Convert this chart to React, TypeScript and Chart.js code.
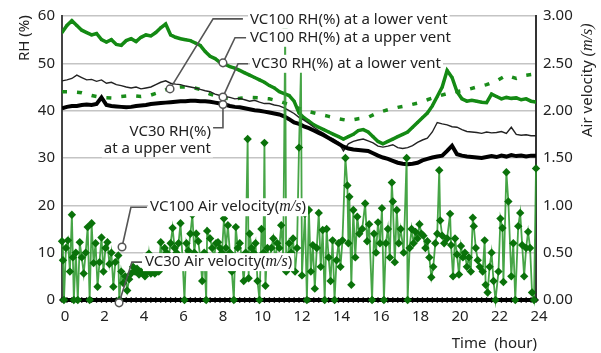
import React, { useEffect, useRef } from "react";
import { Chart, registerables } from "chart.js";

Chart.register(...registerables);

const FONT = "'Noto Sans', 'DejaVu Sans', sans-serif";
const MATH_FONT = "'Liberation Serif', 'DejaVu Serif', serif";

// RH series sampled every quarter hour (0 .. 24 h)
const RH_STEP = 0.25;
const vc100RhUpper = [
  56.5, 58, 59, 58, 57, 56.5, 56, 56.3, 55, 54.5, 55, 54, 53.8, 54.8, 55.2, 54.6,
  55.5, 56, 55.8, 56.5, 57.5, 58.3, 56, 55.5, 55.2, 55, 54.8, 54.3, 53.8, 52.5, 51.5, 51,
  50.2, 49.8, 49.3, 49, 48.5, 48, 47.5, 47, 46.5, 46, 45.3, 44.8, 44, 43.6, 43.2, 42,
  39.5, 38.5, 37.8, 37, 36.5, 36, 35.5, 35, 34.5, 34, 34.5, 35, 35.8, 36, 35.5, 34.5,
  33.5, 33, 33.5, 34, 34.5, 35, 35.5, 36.5, 37.5, 38.5, 39.5, 41, 43, 45, 48.5, 47,
  44, 42.5, 42, 42.2, 42, 41.8, 41.7, 43.5, 43, 42.5, 42.8, 42.6, 42.7, 42.3, 42.5, 42,
  41.8,
];
const vc100RhLower = [
  46.3, 46.5, 46.8, 47.5, 47, 46.5, 46.6, 46.2, 46.5, 45.8, 46, 45.5, 45.3, 45, 44.8, 45,
  44.6, 44.8, 45, 45.5, 46, 46.3, 45.8, 45.6, 45.5, 45.2, 45, 44.8, 44.5, 44.2, 44, 43.5,
  43.2, 43, 42.8, 42.5, 42.6, 42.3, 42, 42.2, 41.8, 41.5, 41.5, 41.2, 41, 40.6, 40, 39.4,
  38.6, 38, 37.3, 36.5, 35.8, 35.2, 34.5, 34, 33.3, 31.5, 33, 33.5, 33.8, 34, 33.6, 33.2,
  32.5, 32.3, 32.5, 32.8, 32.2, 32, 32.2, 32.6, 33.3, 33.8, 34.2, 35.5, 37.5, 37.2, 37, 36.6,
  36.5, 36, 35.6, 35.5, 35.4, 35.2, 35.5, 35.3, 35.4, 35.6, 35.2, 36.5, 35, 34.8, 34.9, 34.7,
  34.7,
];
const vc30RhUpper = [
  40.5, 40.8, 41, 41, 41.2, 41.3, 41.2, 41.4, 42.8, 41.2, 41, 40.9, 40.8, 40.7, 40.8, 41,
  41.1, 41.2, 41.4, 41.5, 41.6, 41.7, 41.8, 41.9, 42, 42, 42.1, 42.1, 42, 42, 41.9, 41.7,
  41.5, 41.3, 41, 40.8, 40.7, 40.5, 40.3, 40.1, 40, 39.8, 39.6, 39.4, 39.2, 38.8, 38.2, 37.5,
  37.2, 36.7, 36.3, 35.8, 35.3, 34.8, 34.2, 33.6, 33, 32.4, 32, 31.8, 31.7, 31.6, 31.5, 31,
  30.5, 30.1, 29.8, 29.4, 29, 28.8, 28.7, 28.8, 29, 29.5, 29.8, 30.1, 30.3, 30.5, 31.5, 32.6,
  30.8, 30.5, 30.3, 30.2, 30.1, 30, 30.2, 30.4, 30.2, 30.5, 30.3, 30.6, 30.4, 30.5, 30.3, 30.5,
  30.5,
];
// VC30 lower vent RH sampled every half hour
const RH_LOWER30_STEP = 0.5;
const vc30RhLower = [
  44, 44, 43.8, 43.2, 42.8, 42.7, 43, 43.2, 43, 43.3,
  44, 44.8, 45, 45, 44.5, 43.5, 42.8, 42.5, 42.6, 42.8,
  42.7, 42.5, 42, 41.3, 40.5, 39.8, 39.3, 38.8, 38.3, 37.9,
  38.3, 38.6, 39.6, 40.2, 40.7, 41.1, 41.6, 42.3, 43, 43.6,
  44, 44.4, 45, 45.5, 46.3, 47.5, 46.8, 47.5, 47.8,
];

// Air velocity (m/s)
const velHours = [
  0, 0.05, 0.1, 0.2, 0.3, 0.4, 0.5, 0.55, 0.6, 0.7, 0.8, 0.9, 1.0,
  1.1, 1.2, 1.3, 1.4, 1.5, 1.6, 1.7, 1.8, 1.9, 2.0, 2.1,
  2.2, 2.3, 2.4, 2.5, 2.6, 2.7, 2.85, 2.9, 3.0,
  3.1, 3.2, 3.3, 3.4, 3.5, 3.6, 3.7, 3.8, 3.9, 4.0,
  4.1, 4.2, 4.3, 4.4, 4.5, 4.6, 4.7, 4.8, 4.9, 5.0,
  5.1, 5.2, 5.3, 5.4, 5.5, 5.6, 5.7, 5.8, 5.9, 6.0, 6.1,
  6.2, 6.3, 6.4, 6.5, 6.6, 6.7, 6.8, 6.9, 7.0, 7.1,
  7.2, 7.3, 7.35, 7.5, 7.6, 7.7, 7.8, 7.9, 8.0,
  8.1, 8.2, 8.3, 8.4, 8.5, 8.6, 8.7, 8.8, 8.9, 9.0,
  9.1, 9.2, 9.3, 9.4, 9.45, 9.5, 9.6, 9.7, 9.8, 9.9, 10.0,
  10.1, 10.2, 10.25, 10.3, 10.4, 10.5, 10.6, 10.7, 10.8, 10.9, 11.0,
  11.1, 11.2, 11.3, 11.35, 11.5, 11.6, 11.7, 11.8, 11.9, 12.0,
  12.1, 12.15, 12.3, 12.4, 12.5, 12.6, 12.7, 12.8, 12.9, 13.0,
  13.1, 13.2, 13.3, 13.4, 13.5, 13.6, 13.7, 13.8, 13.9, 14.0,
  14.1, 14.2, 14.35, 14.45, 14.5, 14.55, 14.65, 14.75, 14.85, 14.95,
  15.05, 15.2, 15.35, 15.45, 15.55, 15.7, 15.8, 15.9, 16.0, 16.1,
  16.2, 16.3, 16.4, 16.5, 16.6, 16.7, 16.75, 16.85, 16.95, 17.05,
  17.15, 17.3, 17.45, 17.5, 17.6, 17.7, 17.8, 17.9, 18.0, 18.1,
  18.2, 18.3, 18.4, 18.5, 18.6, 18.7, 18.8, 18.9, 19.0,
  19.1, 19.15, 19.25, 19.35, 19.5, 19.65, 19.7, 19.8, 19.9, 20.0,
  20.1, 20.2, 20.3, 20.4, 20.5, 20.6, 20.7, 20.8, 20.85, 20.95,
  21.05, 21.15, 21.3, 21.4, 21.45, 21.55, 21.65, 21.75, 21.85, 21.95,
  22.1, 22.2, 22.3, 22.35, 22.5, 22.6, 22.75, 22.85, 22.95,
  23.1, 23.2, 23.3, 23.4, 23.5, 23.6, 23.7, 23.8, 23.9, 24.0,
];
const vc100Vel = [
  0.62, 0.42, 0, 0.55, 0.63, 0.3, 0.9, 0.45, 0, 0.5, 0, 0.61, 0.45,
  0.28, 0.5, 0.77, 0, 0.81, 0.39, 0.6, 0.14, 0.4, 0.66, 0.3,
  0.55, 0.61, 0.38, 0.5, 0.14, 0.4, 0.47, 0, 0.3,
  0.18, 0.25, 0.1, 0.22, 0.28, 0.35, 0.3, 0.33, 0.27, 0.3,
  0.28, 0.25, 0.3, 0.49, 0.28, 0.3, 0.28, 0.3, 0.3, 0.61,
  0.4, 0.55, 0.5, 0.45, 0.6, 0.76, 0.55, 0.5, 0.6, 0.81, 0.45,
  0, 0.6, 0.52, 0.7, 0.9, 0.5, 0.7, 0.62, 0.45, 0.2,
  0.5, 0, 0.73, 0.65, 0.55, 0.45, 0.6, 0.61, 0.55,
  0.5, 0.86, 0.55, 0.79, 0.5, 0.3, 0, 0.77, 0.55, 0.6,
  0.45, 0.2, 0.5, 1.7, 0.23, 0.7, 0.55, 0.5, 0.6, 0.2, 0,
  0.75, 0.5, 1.66, 0.15, 0.55, 0.4, 0.55, 0.65, 0.4, 0.6, 0.55,
  0.79, 0.45, 2.85, 0.3, 0.6, 0.5, 0.65, 0.3, 0.55, 1.61,
  2.44, 0.26, 0.91, 0, 0.95, 0.3, 0.58, 0.12, 0.55, 0.92,
  0.35, 0.74, 0, 0.75, 0.45, 0.2, 0.63, 0, 0.42, 0.6,
  0.35, 0.63, 1.5, 1.21, 0.6, 1.09, 0.16, 0.95, 0.45, 0.88,
  0.7, 0.75, 1.02, 0.62, 0.8, 0, 0.7, 0.5, 0.82, 0.6,
  0.97, 0, 0.6, 0.75, 0.45, 1.24, 1.04, 0.4, 0.95, 0.6,
  0.75, 0.5, 1.5, 0, 0.55, 0.75, 0.6, 0.72, 0.65, 0.8,
  0.7, 0.68, 0.55, 0.62, 0.45, 0.24, 0.35, 0.6, 0.7,
  1.37, 0.84, 0.68, 0.6, 0.65, 0.91, 0.58, 0.25, 0.65, 0.48,
  0.27, 0.57, 0.45, 0.5, 0.35, 0.45, 0.3, 0.87, 0.78, 0.55,
  0.42, 0.35, 0.3, 0.63, 0.16, 0.08, 0.35, 0.5, 0.2, 0,
  0.3, 0.86, 0.76, 0.19, 1.35, 1.04, 0.25, 0.6, 0,
  0.78, 0.92, 0.58, 0.25, 0.55, 0.72, 0.55, 0.08, 0, 1.39,
];
const vc30Vel = [
  0, 0, 0, 0, 0, 0, 0, 0, 0, 0, 0, 0, 0, 0, 0, 0, 0, 0, 0, 0, 0, 0, 0, 0,
  0, 0, 0, 0, 0, 0, 0, 0, 0, 0, 0, 0, 0, 0, 0, 0, 0, 0, 0, 0, 0, 0, 0, 0,
  0, 0, 0, 0, 0, 0, 0, 0, 0, 0, 0, 0, 0, 0, 0, 0, 0, 0, 0, 0, 0, 0, 0, 0,
  0, 0, 0, 0, 0, 0, 0, 0, 0, 0, 0, 0, 0, 0, 0, 0, 0, 0, 0, 0, 0, 0, 0, 0,
  0,
];

const hourMin = 0;
const hourMax = 24;
const rhMax = 60;
const velMax = 3;

type Part = { t: string; math?: boolean };
type Callout = {
  parts: Part[][];
  axis: "y" | "y1";
  circle: [number, number];
  path: [number, number][];
  text: [number, number];
  align: "left" | "right";
};

const callouts: Callout[] = [
  { parts: [[{ t: "VC100 RH(%) at a lower vent" }]], axis: "y", circle: [5.47, 44.6], path: [[7.65, 59.4], [9.16, 59.4]], text: [9.52, 59.2], align: "left" },
  { parts: [[{ t: "VC100 RH(%) at a upper vent" }]], axis: "y", circle: [8.15, 50.1], path: [[8.76, 55.4], [9.32, 55.4]], text: [9.52, 55.4], align: "left" },
  { parts: [[{ t: "VC30 RH(%) at a lower vent" }]], axis: "y", circle: [8.15, 42.9], path: [[8.91, 49.9], [9.42, 49.9]], text: [9.62, 49.9], align: "left" },
  { parts: [[{ t: "VC30 RH(%)" }], [{ t: "at a upper vent" }]], axis: "y", circle: [8.15, 41.3], path: [[8.15, 36.4], [7.65, 36.4]], text: [7.54, 35.6], align: "right" },
  { parts: [[{ t: "VC100 Air velocity(" }, { t: "m/s", math: true }, { t: ")" }]], axis: "y1", circle: [3.04, 0.56], path: [[3.49, 0.98], [4.3, 0.98]], text: [4.46, 0.98], align: "left" },
  { parts: [[{ t: "VC30 Air velocity(" }, { t: "m/s", math: true }, { t: ")" }]], axis: "y1", circle: [2.89, -0.03], path: [[3.54, 0.4], [4.05, 0.4]], text: [4.2, 0.4], align: "left" },
];

const overlayPlugin = {
  id: "overlay",
  afterDatasetsDraw(chart: any) {
    const { ctx, scales } = chart;
    const X = (h: number) => scales.x.getPixelForValue(h);
    const fontN = `15px ${FONT}`;
    const fontM = `italic 16px ${MATH_FONT}`;
    ctx.save();
    callouts.forEach((c) => {
      const Y = (v: number) => scales[c.axis].getPixelForValue(v);
      ctx.beginPath();
      ctx.strokeStyle = "#555";
      ctx.lineWidth = 1.6;
      ctx.moveTo(X(c.circle[0]), Y(c.circle[1]));
      c.path.forEach((p) => ctx.lineTo(X(p[0]), Y(p[1])));
      ctx.stroke();
    });
    callouts.forEach((c) => {
      const Y = (v: number) => scales[c.axis].getPixelForValue(v);
      const tx = X(c.text[0]);
      let ty = Y(c.text[1]);
      c.parts.forEach((line) => {
        const widths = line.map((p) => {
          ctx.font = p.math ? fontM : fontN;
          return ctx.measureText(p.t).width;
        });
        const total = widths.reduce((a, b) => a + b, 0);
        let x0 = c.align === "left" ? tx : tx - total;
        ctx.fillStyle = "#fff";
        ctx.fillRect(x0 - 2, ty - 9, total + 4, 18);
        ctx.fillStyle = "#222";
        ctx.textBaseline = "middle";
        ctx.textAlign = "left";
        line.forEach((p, i) => {
          ctx.font = p.math ? fontM : fontN;
          ctx.fillText(p.t, x0, ty);
          x0 += widths[i];
        });
        ty += 17;
      });
    });
    callouts.forEach((c) => {
      const Y = (v: number) => scales[c.axis].getPixelForValue(v);
      ctx.beginPath();
      ctx.arc(X(c.circle[0]), Y(c.circle[1]), 3.8, 0, Math.PI * 2);
      ctx.fillStyle = "#fff";
      ctx.fill();
      ctx.strokeStyle = "#555";
      ctx.lineWidth = 1.5;
      ctx.stroke();
    });
    ctx.restore();
  },
  afterDraw(chart: any) {
    const { ctx } = chart;
    ctx.save();
    ctx.fillStyle = "#222";
    ctx.textBaseline = "middle";
    ctx.save();
    ctx.translate(25, 61);
    ctx.rotate(-Math.PI / 2);
    ctx.font = `15px ${FONT}`;
    ctx.textAlign = "left";
    ctx.fillText("RH (%)", 0, 0);
    ctx.restore();
    ctx.save();
    ctx.translate(588, 137);
    ctx.rotate(-Math.PI / 2);
    ctx.font = `15px ${FONT}`;
    ctx.textAlign = "left";
    const a = "Air velocity ";
    ctx.fillText(a, 0, 0);
    const w = ctx.measureText(a).width;
    ctx.font = `italic 16px ${MATH_FONT}`;
    ctx.fillText("(m/s)", w, 0);
    ctx.restore();
    ctx.font = `15px ${FONT}`;
    ctx.textAlign = "right";
    ctx.fillText("Time  (hour)", 537, 344);
    ctx.restore();
  },
};

export default function App() {
  const ref = useRef<HTMLCanvasElement | null>(null);

  useEffect(() => {
    if (!ref.current) return;
    const rhPts = (vals: number[], step: number) => vals.map((v, i) => ({ x: i * step, y: v }));
    const chart = new Chart(ref.current, {
      type: "line",
      data: {
        datasets: [
          {
            label: "VC100 Air velocity",
            yAxisID: "y1",
            data: velHours.map((h, i) => ({ x: h, y: vc100Vel[i] })),
            borderColor: "rgba(50,155,50,0.9)",
            borderWidth: 1.8,
            pointStyle: "rectRot",
            pointRadius: 4.2,
            pointBackgroundColor: "#0a720a",
            pointBorderColor: "#0a720a",
            pointBorderWidth: 0,
            tension: 0,
            clip: 8,
          },
          {
            label: "VC30 RH upper",
            yAxisID: "y",
            data: rhPts(vc30RhUpper, RH_STEP),
            borderColor: "#000",
            borderWidth: 4,
            pointRadius: 0,
            tension: 0,
          },
          {
            label: "VC100 RH lower",
            yAxisID: "y",
            data: rhPts(vc100RhLower, RH_STEP),
            borderColor: "#222",
            borderWidth: 1.4,
            pointRadius: 0,
            tension: 0,
          },
          {
            label: "VC30 RH lower",
            yAxisID: "y",
            data: rhPts(vc30RhLower, RH_LOWER30_STEP),
            borderColor: "#1a8c1a",
            borderWidth: 3.5,
            borderDash: [5, 10],
            pointRadius: 0,
            tension: 0,
          },
          {
            label: "VC100 RH upper",
            yAxisID: "y",
            data: rhPts(vc100RhUpper, RH_STEP),
            borderColor: "#148a14",
            borderWidth: 3.5,
            pointStyle: "rect",
            pointRadius: 1.8,
            pointBackgroundColor: "#148a14",
            pointBorderWidth: 0,
            tension: 0,
          },
          {
            label: "VC30 Air velocity",
            yAxisID: "y1",
            data: rhPts(vc30Vel, RH_STEP),
            borderColor: "#000",
            borderWidth: 4,
            pointStyle: "rectRot",
            pointRadius: 3,
            pointBackgroundColor: "#000",
            pointBorderWidth: 0,
            tension: 0,
            clip: 8,
          },
        ],
      },
      options: {
        animation: false,
        responsive: false,
        devicePixelRatio: 1,
        layout: { padding: { top: 15, left: 0, right: 0, bottom: 0 } },
        plugins: { legend: { display: false }, tooltip: { enabled: false } },
        scales: {
          x: {
            type: "linear",
            min: hourMin,
            max: hourMax,
            ticks: {
              stepSize: 2,
              font: { family: FONT, size: 15 },
              color: "#222",
              padding: 8,
              labelOffset: 3,
              maxRotation: 0,
              autoSkip: false,
            },
            grid: { display: false, drawTicks: false },
            border: { display: true, color: "#000", width: 2 },
            afterFit: (s: any) => {
              s.height = 53;
            },
          },
          y: {
            position: "left",
            min: 0,
            max: rhMax,
            ticks: { stepSize: 10, font: { family: FONT, size: 15 }, color: "#222", padding: 7 },
            grid: { color: "#c4c4c4", lineWidth: 1.6, drawTicks: false },
            border: { color: "#444", width: 2 },
            afterFit: (s: any) => {
              s.width = 62;
            },
          },
          y1: {
            position: "right",
            min: 0,
            max: velMax,
            ticks: {
              stepSize: 0.5,
              font: { family: FONT, size: 15 },
              color: "#222",
              padding: 7,
              callback: (v: any) => Number(v).toFixed(2),
            },
            grid: { display: false, drawTicks: false },
            border: { color: "#333", width: 2 },
            afterFit: (s: any) => {
              s.width = 65;
            },
          },
        },
      },
      plugins: [overlayPlugin],
    });
    return () => chart.destroy();
  }, []);

  return (
    <div style={{ position: "absolute", left: 0, top: 0, width: 601, height: 353, background: "#fff" }}>
      <canvas ref={ref} width={601} height={353} />
    </div>
  );
}
